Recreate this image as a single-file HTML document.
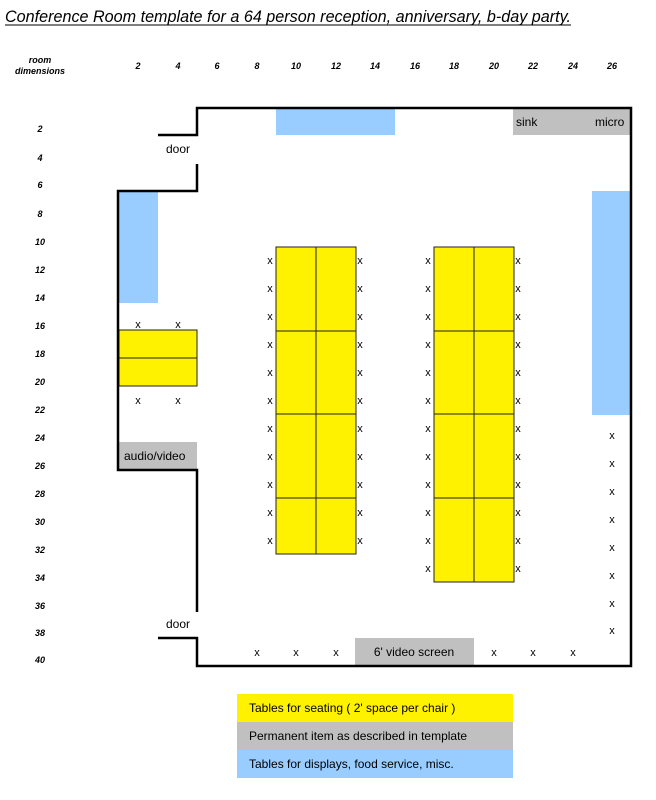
<!DOCTYPE html>
<html><head><meta charset="utf-8"><style>
html,body{margin:0;padding:0;background:#fff;}
svg{display:block;font-family:"Liberation Sans",Arial,sans-serif;}
.t{font-size:12px;fill:#000;}
.lb{font-size:9px;font-weight:bold;font-style:italic;fill:#000;}
.x{font-size:11px;fill:#000;}
</style></head><body>
<svg width="656" height="800" viewBox="0 0 656 800" xmlns="http://www.w3.org/2000/svg">
<text x="5" y="22" font-size="17" font-style="italic" fill="#000" textLength="566" lengthAdjust="spacingAndGlyphs">Conference Room template for a 64 person reception, anniversary, b-day party.</text>
<line x1="5" y1="25" x2="571" y2="25" stroke="#000" stroke-width="1"/>

<text class="lb" x="40" y="63" text-anchor="middle">room</text>
<text class="lb" x="40" y="74" text-anchor="middle">dimensions</text>
<g class="lb" text-anchor="middle">
<text x="138" y="69">2</text><text x="178" y="69">4</text><text x="217" y="69">6</text><text x="257" y="69">8</text>
<text x="296" y="69">10</text><text x="336" y="69">12</text><text x="375" y="69">14</text><text x="415" y="69">16</text>
<text x="454" y="69">18</text><text x="494" y="69">20</text><text x="533" y="69">22</text><text x="573" y="69">24</text><text x="612" y="69">26</text>
<text x="40" y="132">2</text><text x="40" y="161">4</text><text x="40" y="188">6</text><text x="40" y="217">8</text>
<text x="40" y="245">10</text><text x="40" y="273">12</text><text x="40" y="301">14</text><text x="40" y="329">16</text>
<text x="40" y="357">18</text><text x="40" y="385">20</text><text x="40" y="413">22</text><text x="40" y="441">24</text>
<text x="40" y="469">26</text><text x="40" y="497">28</text><text x="40" y="525">30</text><text x="40" y="553">32</text>
<text x="40" y="581">34</text><text x="40" y="609">36</text><text x="40" y="636">38</text><text x="40" y="663">40</text>
</g>

<rect x="276" y="109" width="119" height="26" fill="#99ccff"/>
<rect x="513" y="109" width="118" height="26" fill="#c0c0c0"/>
<text class="t" x="516" y="126">sink</text>
<text class="t" x="595" y="126">micro</text>
<rect x="119" y="191" width="39" height="112" fill="#99ccff"/>
<rect x="592" y="191" width="39" height="224" fill="#99ccff"/>
<rect x="119" y="442" width="78" height="28" fill="#c0c0c0"/>
<text class="t" x="124" y="460">audio/video</text>
<rect x="355" y="638" width="119" height="28" fill="#c0c0c0"/>
<text class="t" x="414" y="656" text-anchor="middle">6' video screen</text>

<g fill="#fff200" stroke="#222" stroke-width="1">
<rect x="119" y="330" width="78" height="28"/><rect x="119" y="358" width="78" height="28"/>
<rect x="276" y="247" width="40" height="84"/><rect x="316" y="247" width="40" height="84"/>
<rect x="276" y="331" width="40" height="83"/><rect x="316" y="331" width="40" height="83"/>
<rect x="276" y="414" width="40" height="84"/><rect x="316" y="414" width="40" height="84"/>
<rect x="276" y="498" width="40" height="56"/><rect x="316" y="498" width="40" height="56"/>
<rect x="434" y="247" width="40" height="84"/><rect x="474" y="247" width="40" height="84"/>
<rect x="434" y="331" width="40" height="83"/><rect x="474" y="331" width="40" height="83"/>
<rect x="434" y="414" width="40" height="84"/><rect x="474" y="414" width="40" height="84"/>
<rect x="434" y="498" width="40" height="84"/><rect x="474" y="498" width="40" height="84"/>
</g>

<g fill="none" stroke="#000" stroke-width="2.5">
<polyline points="158,135 197,135 197,108 631,108 631,666 197,666 197,638 158,638"/>
<polyline points="197,164 197,191 118,191 118,470 197,470 197,612"/>
</g>
<text class="t" x="178" y="153" text-anchor="middle">door</text>
<text class="t" x="178" y="628" text-anchor="middle">door</text>

<g class="x" text-anchor="middle">
<text x="138" y="328">x</text><text x="178" y="328">x</text>
<text x="138" y="404">x</text><text x="178" y="404">x</text>
<text x="270" y="264">x</text><text x="270" y="292">x</text><text x="270" y="320">x</text><text x="270" y="348">x</text>
<text x="270" y="376">x</text><text x="270" y="404">x</text><text x="270" y="432">x</text><text x="270" y="460">x</text>
<text x="270" y="488">x</text><text x="270" y="516">x</text><text x="270" y="544">x</text>
<text x="360" y="264">x</text><text x="360" y="292">x</text><text x="360" y="320">x</text><text x="360" y="348">x</text>
<text x="360" y="376">x</text><text x="360" y="404">x</text><text x="360" y="432">x</text><text x="360" y="460">x</text>
<text x="360" y="488">x</text><text x="360" y="516">x</text><text x="360" y="544">x</text>
<text x="428" y="264">x</text><text x="428" y="292">x</text><text x="428" y="320">x</text><text x="428" y="348">x</text>
<text x="428" y="376">x</text><text x="428" y="404">x</text><text x="428" y="432">x</text><text x="428" y="460">x</text>
<text x="428" y="488">x</text><text x="428" y="516">x</text><text x="428" y="544">x</text><text x="428" y="572">x</text>
<text x="518" y="264">x</text><text x="518" y="292">x</text><text x="518" y="320">x</text><text x="518" y="348">x</text>
<text x="518" y="376">x</text><text x="518" y="404">x</text><text x="518" y="432">x</text><text x="518" y="460">x</text>
<text x="518" y="488">x</text><text x="518" y="516">x</text><text x="518" y="544">x</text><text x="518" y="572">x</text>
<text x="612" y="439">x</text><text x="612" y="467">x</text><text x="612" y="495">x</text><text x="612" y="523">x</text>
<text x="612" y="551">x</text><text x="612" y="579">x</text><text x="612" y="607">x</text><text x="612" y="634">x</text>
<text x="257" y="656">x</text><text x="296" y="656">x</text><text x="336" y="656">x</text>
<text x="494" y="656">x</text><text x="533" y="656">x</text><text x="573" y="656">x</text>
</g>

<rect x="237" y="694" width="276" height="28" fill="#fff200"/>
<rect x="237" y="722" width="276" height="28" fill="#c0c0c0"/>
<rect x="237" y="750" width="276" height="28" fill="#99ccff"/>
<text class="t" x="249" y="712">Tables for seating ( 2' space per chair )</text>
<text class="t" x="249" y="740">Permanent item as described in template</text>
<text class="t" x="249" y="768">Tables for displays, food service, misc.</text>
</svg>
</body></html>
